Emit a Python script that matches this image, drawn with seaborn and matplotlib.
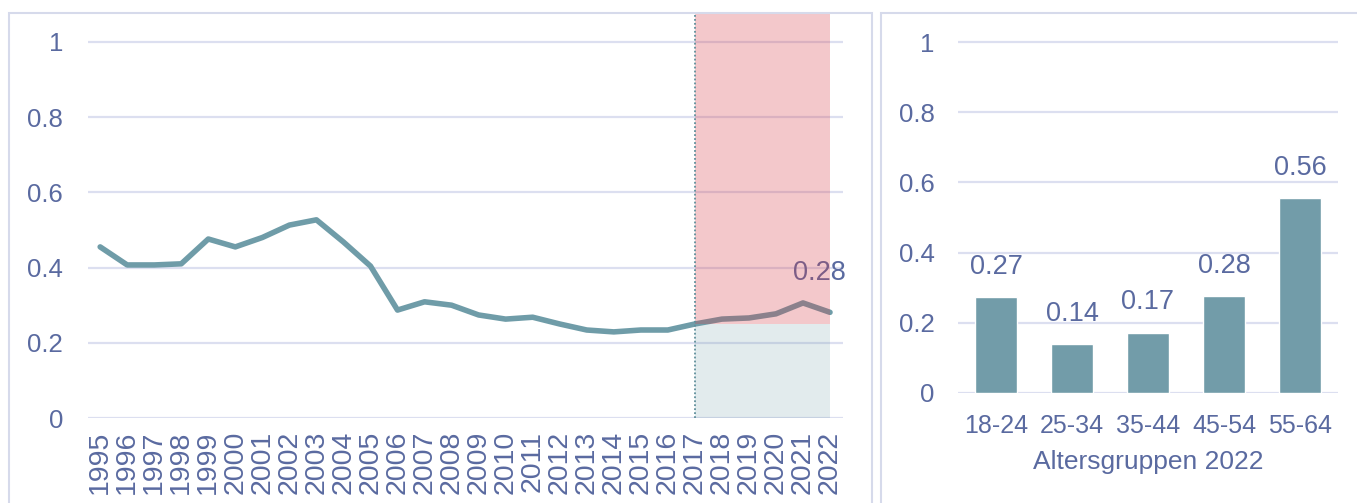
import matplotlib
matplotlib.use("Agg")
import matplotlib.pyplot as plt
import seaborn as sns
import pandas as pd
from matplotlib.patches import Rectangle

# ---- data ----
years = list(range(1995, 2023))
values = [0.455, 0.407, 0.407, 0.410, 0.476, 0.455, 0.480, 0.513, 0.527, 0.468,
          0.404, 0.287, 0.309, 0.300, 0.274, 0.263, 0.268, 0.250, 0.234, 0.229,
          0.234, 0.234, 0.250, 0.263, 0.266, 0.277, 0.306, 0.281]
last_label = "0.28"
shade_start = 2017
shade_end = 2022
threshold = 0.25

age_groups = ["18-24", "25-34", "35-44", "45-54", "55-64"]
age_values = [0.273, 0.139, 0.172, 0.276, 0.555]
age_labels = ["0.27", "0.14", "0.17", "0.28", "0.56"]
bar_xlabel = "Altersgruppen 2022"

yticks = [0, 0.2, 0.4, 0.6, 0.8, 1.0]
ytick_labels = ["0", "0.2", "0.4", "0.6", "0.8", "1"]

# ---- style ----
sns.set_theme(style="white")
plt.rcParams["font.family"] = ["Liberation Sans", "DejaVu Sans"]
TXT = "#5a6aa0"
GRID = "#dcdff0"
LINE = "#6f9ca8"
BAR = "#729ca9"
FS = 18.5

W, H = 1357, 503
fig = plt.figure(figsize=(W / 100, H / 100), dpi=100)
fig.patch.set_facecolor("white")

def fx(px):
    return px / W

def fy(py):
    return 1 - py / H

# panel borders
for (x0, x1, y0) in [(9, 872, 13), (881, 1380, 13)]:
    fig.patches.append(Rectangle((fx(x0), fy(530)), fx(x1 - x0), fy(y0) - fy(530),
                                 transform=fig.transFigure, fill=False,
                                 edgecolor="#d6daeb", linewidth=1.5, zorder=0))

# ---- left chart ----
axL = fig.add_axes([fx(88), fy(418), fx(843 - 88), fy(13) - fy(418)])
top_left = 1.077
df = pd.DataFrame({"year": years, "value": values})
sns.lineplot(data=df, x="year", y="value", ax=axL, color=LINE, linewidth=4.0, zorder=3)
axL.set_xlim(1994.55, 2022.48)
axL.set_ylim(0, top_left)
for t in yticks:
    axL.axhline(t, color=GRID, linewidth=1.6, zorder=0.5)
axL.fill_between([shade_start, shade_end], 0, threshold, color=LINE, alpha=0.2,
                 linewidth=0, zorder=1)
axL.fill_between([shade_start, shade_end], threshold, top_left, color=(215/255, 60/255, 70/255),
                 alpha=0.28, linewidth=0, zorder=4)
axL.axvline(shade_start, color="#5f8f9b", linestyle=(0, (1, 1.2)), linewidth=1.3, zorder=5)
axL.text(years[-1] - 0.4, values[-1] + 0.07, last_label, color=TXT, fontsize=19.5,
         ha="center", va="bottom", zorder=3)
axL.set_xticks(years)
axL.set_xticklabels([str(y) for y in years], rotation=90, fontsize=20.5, color=TXT)
axL.set_yticks(yticks)
axL.set_yticklabels(ytick_labels, fontsize=FS, color=TXT)
axL.tick_params(axis="y", length=0, pad=18)
axL.tick_params(axis="x", length=0, pad=9)
axL.set_xlabel("")
axL.set_ylabel("")
for s in axL.spines.values():
    s.set_visible(False)
axL.grid(False)
axL.set_facecolor("none")

# ---- right chart ----
axR = fig.add_axes([fx(958), fy(393), fx(1338 - 958), fy(13) - fy(393)])
dfb = pd.DataFrame({"group": age_groups, "value": age_values})
sns.barplot(data=dfb, x="group", y="value", ax=axR, color=BAR, width=0.54,
            saturation=1, zorder=3)
axR.set_xlim(-0.5, 4.5)
axR.set_ylim(0, 380 / 351)
for t in yticks:
    axR.axhline(t, color=GRID, linewidth=1.6, zorder=0.5)
for i, (v, lab) in enumerate(zip(age_values, age_labels)):
    axR.text(i, v + 0.05, lab, color=TXT, fontsize=19.5, ha="center", va="bottom")
axR.set_yticks(yticks)
axR.set_yticklabels(ytick_labels, fontsize=FS, color=TXT)
axR.set_xticks(range(len(age_groups)))
axR.set_xticklabels(age_groups, fontsize=18, color=TXT)
axR.tick_params(axis="y", length=0, pad=17)
axR.tick_params(axis="x", length=0, pad=15)
axR.set_xlabel(bar_xlabel, fontsize=19, color=TXT, labelpad=9)
axR.set_ylabel("")
for s in axR.spines.values():
    s.set_visible(False)
axR.grid(False)
axR.set_facecolor("none")

fig.savefig("out.png", dpi=100, facecolor="white")
